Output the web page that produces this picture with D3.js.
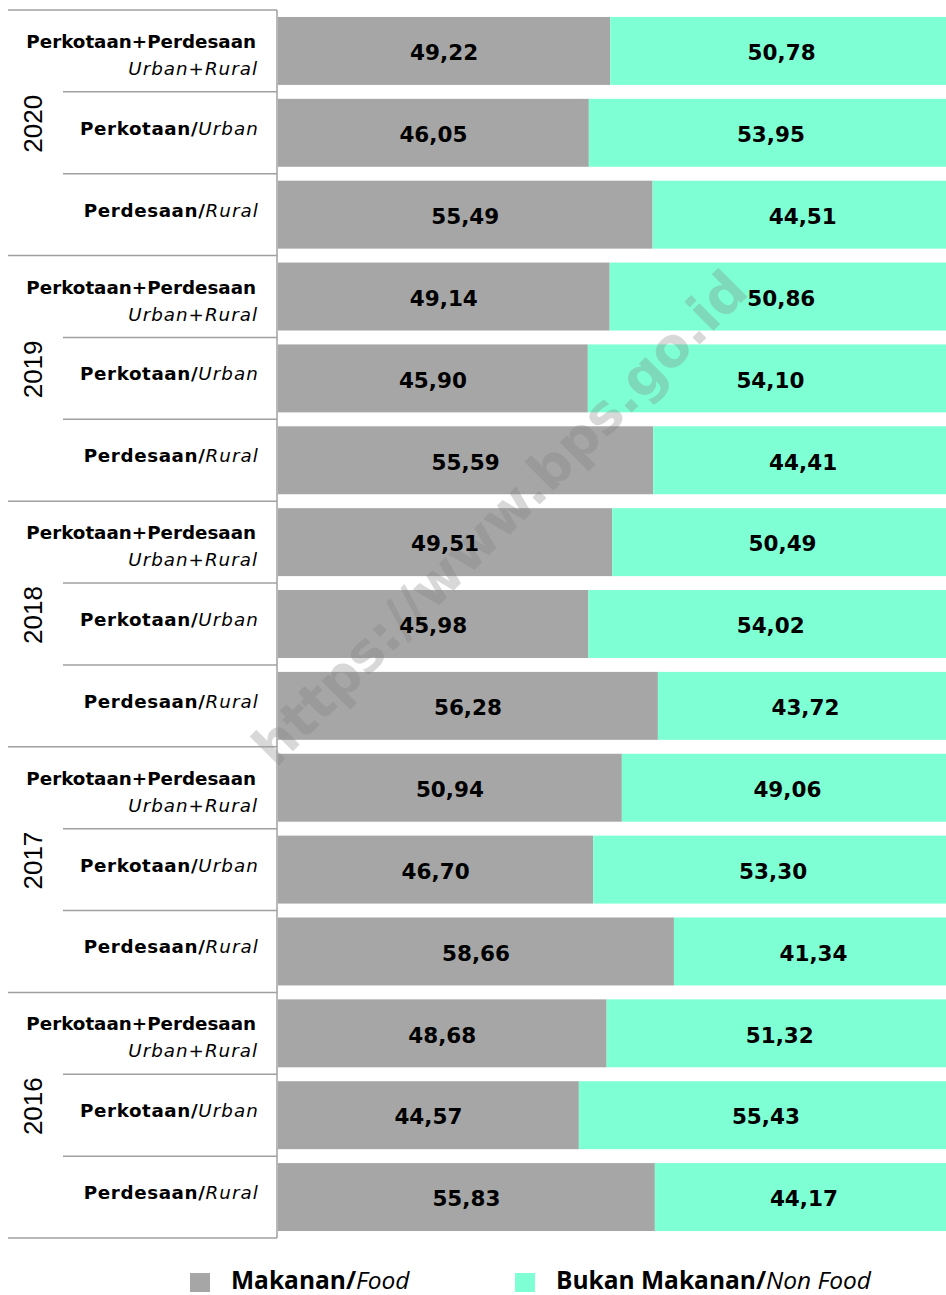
<!DOCTYPE html>
<html>
<head>
<meta charset="utf-8">
<script src="https://cdn.jsdelivr.net/npm/d3@7"></script>
<style>
  html, body { margin: 0; padding: 0; background: #fff; }
  svg { display: block; }
</style>
</head>
<body>
<svg id="chart"></svg>
<script>
const width = 946;
const height = 1295;

// data
const years = ["2020", "2019", "2018", "2017", "2016"];
const areaBold = ["Perkotaan+Perdesaan", "Perkotaan/", "Perdesaan/"];
const areaItalic = ["Urban+Rural", "Urban", "Rural"];
const food = [49.22, 46.05, 55.49, 49.14, 45.90, 55.59, 49.51, 45.98, 56.28, 50.94, 46.70, 58.66, 48.68, 44.57, 55.83];
const nonFood = [50.78, 53.95, 44.51, 50.86, 54.10, 44.41, 50.49, 54.02, 43.72, 49.06, 53.30, 41.34, 51.32, 55.43, 44.17];
const seriesNames = [["Makanan/", "Food"], ["Bukan Makanan/", "Non Food"]];
const colors = ["#a6a6a6", "#7fffd4"];

const rows = [];
years.forEach((yr, i) => {
    areaBold.forEach((a, j) => {
        const k = i * 3 + j;
        rows.push({ id: yr + "-" + j, year: yr, area: j, food: food[k], nonFood: nonFood[k] });
    });
});

const svg = d3.select("#chart")
    .attr("width", width)
    .attr("height", height);

const axisX = 277;
const plotTop = 10, plotBottom = 1238;

const y = d3.scaleBand()
    .domain(rows.map(d => d.id))
    .range([plotTop, plotBottom])
    .paddingInner(0.17)
    .paddingOuter(0.085);

const x = d3.scaleLinear()
    .domain([0, 100])
    .range([278, 953]);

const step = y.step();
const rowTop = d => y(d.id) - step * 0.085;
const rowMid = d => y(d.id) + y.bandwidth() / 2;

// bars
const barG = svg.append("g");
barG.selectAll(".food")
    .data(rows)
    .enter()
    .append("rect")
    .attr("class", "food")
    .attr("x", x(0))
    .attr("y", d => y(d.id))
    .attr("width", d => x(d.food) - x(0))
    .attr("height", y.bandwidth())
    .attr("fill", colors[0]);

barG.selectAll(".nonfood")
    .data(rows)
    .enter()
    .append("rect")
    .attr("class", "nonfood")
    .attr("x", d => x(d.food))
    .attr("y", d => y(d.id))
    .attr("width", d => x(d.food + d.nonFood) - x(d.food))
    .attr("height", y.bandwidth())
    .attr("fill", colors[1]);

// watermark
svg.append("text")
    .attr("transform", "translate(500,518) rotate(-45)")
    .attr("text-anchor", "middle")
    .attr("dominant-baseline", "central")
    .attr("font-family", "DejaVu Sans, sans-serif")
    .attr("font-weight", "bold")
    .attr("font-size", 54)
    .attr("fill", "#7f7f7f")
    .attr("fill-opacity", 0.3)
    .text("https://www.bps.go.id");

// value labels
const valG = svg.append("g")
    .attr("font-family", "DejaVu Sans, sans-serif")
    .attr("font-weight", "bold")
    .attr("font-size", 21.5)
    .attr("fill", "#000")
    .attr("text-anchor", "middle");

const fmt = v => v.toFixed(2).replace(".", ",");

valG.selectAll(".vf")
    .data(rows)
    .enter()
    .append("text")
    .attr("x", d => (x(0) + x(d.food)) / 2)
    .attr("y", d => rowMid(d) + 1.5)
    .attr("dy", "0.36em")
    .text(d => fmt(d.food));

valG.selectAll(".vn")
    .data(rows)
    .enter()
    .append("text")
    .attr("x", d => (x(d.food) + x(100)) / 2)
    .attr("y", d => rowMid(d) + 1.5)
    .attr("dy", "0.36em")
    .text(d => fmt(d.nonFood));

// grid lines of the category axis
const lineColor = "#a0a0a0";
const gridG = svg.append("g").attr("stroke", lineColor).attr("stroke-width", 1.5);

gridG.selectAll(".rowline")
    .data(rows)
    .enter()
    .append("line")
    .attr("x1", d => d.area === 0 ? 8 : 63)
    .attr("x2", axisX)
    .attr("y1", d => rowTop(d))
    .attr("y2", d => rowTop(d));

gridG.append("line")
    .attr("x1", 8).attr("x2", axisX)
    .attr("y1", plotBottom).attr("y2", plotBottom);

gridG.append("line")
    .attr("x1", axisX).attr("x2", axisX)
    .attr("y1", plotTop).attr("y2", plotBottom);

// category labels
const labG = svg.append("g")
    .attr("font-family", "DejaVu Sans, sans-serif")
    .attr("font-size", 18.3)
    .attr("fill", "#000")
    .attr("text-anchor", "end");

rows.forEach(d => {
    if (d.area === 0) {
        labG.append("text")
            .attr("x", 256)
            .attr("y", rowMid(d) - 3)
            .attr("font-weight", "bold")
            .text(areaBold[0]);
        labG.append("text")
            .attr("x", 258)
            .attr("y", rowMid(d) + 24)
            .attr("font-style", "italic")
            .attr("letter-spacing", 1.0)
            .text(areaItalic[0]);
    } else {
        const t = labG.append("text")
            .attr("x", 259)
            .attr("y", rowMid(d) + 2);
        t.append("tspan").attr("font-weight", "bold").attr("letter-spacing", 0.6).text(areaBold[d.area]);
        t.append("tspan").attr("font-style", "italic").attr("letter-spacing", 1.1).text(areaItalic[d.area]);
    }
});

// year labels
const yearG = svg.append("g")
    .attr("font-family", "Liberation Sans Narrow, Liberation Sans, sans-serif")
    .attr("font-size", 26)
    .attr("fill", "#000")
    .attr("text-anchor", "middle");

years.forEach(yr => {
    const first = rows.find(r => r.year === yr);
    const cy = rowMid(first) + step - 9;
    yearG.append("text")
        .attr("transform", `translate(33,${cy}) rotate(-90)`)
        .attr("dy", "0.35em")
        .text(yr);
});

// legend
const legendX = [190, 515];
const legG = svg.append("g")
    .attr("font-family", "Open Sans, sans-serif")
    .attr("font-size", 24.5)
    .attr("fill", "#000");

seriesNames.forEach((s, i) => {
    legG.append("rect")
        .attr("x", legendX[i])
        .attr("y", 1273)
        .attr("width", 20)
        .attr("height", 19)
        .attr("fill", colors[i]);
    const t = legG.append("text")
        .attr("x", legendX[i] + 41)
        .attr("y", 1289);
    t.append("tspan").attr("font-weight", "bold").text(s[0]);
    t.append("tspan").attr("font-style", "italic").text(s[1]);
});
</script>
</body>
</html>
